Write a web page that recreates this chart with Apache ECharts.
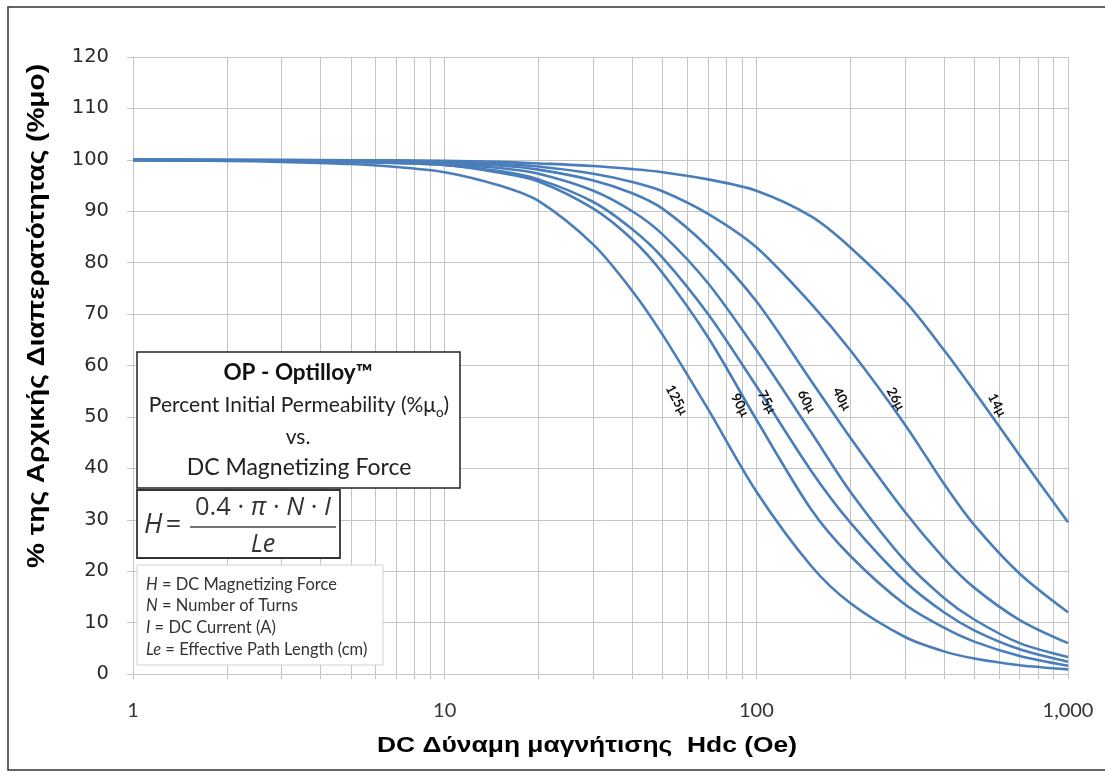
<!DOCTYPE html>
<html>
<head>
<meta charset="utf-8">
<script src="https://cdn.jsdelivr.net/npm/echarts@6/dist/echarts.min.js"></script>
<style>
  html, body { margin: 0; padding: 0; background: #ffffff; }
  #chart { width: 1105px; height: 774px; }
</style>
</head>
<body>
<div id="chart"></div>
<script>
// DC magnetizing force Hdc (Oe) at which each curve is sampled
const hValues = [1, 2, 3, 5, 7, 10, 15, 20, 30, 40, 50, 70, 100, 150, 200, 300, 400, 500, 700, 1000];

// Percent of initial permeability for each core permeability grade
const perm125 = [100, 99.8, 99.6, 99.2, 98.6, 97.6, 95.0, 92.0, 83.5, 74.5, 66.0, 51.5, 35.5, 21.0, 13.8, 7.2, 4.4, 3.0, 1.7, 0.9];
const perm90  = [100, 99.9, 99.8, 99.6, 99.4, 99.0, 97.5, 95.8, 90.5, 84.5, 78.0, 65.5, 49.5, 32.0, 23.0, 13.5, 9.0, 6.3, 3.5, 1.6];
const perm75  = [100, 99.9, 99.8, 99.6, 99.4, 99.0, 97.8, 96.2, 91.8, 86.5, 81.0, 70.0, 56.0, 39.5, 29.5, 18.0, 12.0, 8.5, 4.8, 2.4];
const perm60  = [100, 99.9, 99.8, 99.7, 99.5, 99.2, 98.4, 97.3, 94.0, 90.0, 85.5, 76.0, 63.0, 47.0, 35.5, 22.0, 14.8, 10.6, 6.0, 3.3];
const perm40  = [100, 99.9, 99.9, 99.8, 99.7, 99.4, 98.9, 98.1, 96.0, 93.5, 90.5, 83.0, 72.5, 57.0, 46.0, 31.5, 22.5, 16.8, 10.5, 6.0];
const perm26  = [100, 100, 99.9, 99.8, 99.7, 99.5, 99.2, 98.7, 97.3, 95.7, 93.9, 89.5, 83.0, 72.0, 63.0, 48.5, 37.0, 29.0, 19.5, 12.0];
const perm14  = [100, 100, 100, 99.9, 99.9, 99.8, 99.6, 99.3, 98.8, 98.2, 97.6, 96.2, 94.0, 89.0, 83.0, 72.5, 63.0, 55.0, 42.5, 29.5];

const gradeNames = ['125μ', '90μ', '75μ', '60μ', '40μ', '26μ', '14μ'];
const gradeValues = [perm125, perm90, perm75, perm60, perm40, perm26, perm14];

// Where each grade tag sits on the chart, in (Hdc, %) units
const gradeTagAt = [[55.5, 53.3], [88.6, 52.3], [108, 52.9], [145, 53.0], [188, 53.5], [280, 53.5], [592, 52.3]];

// Log-axis grid positions (1..9 per decade) and labelled decades
const xGridValues = [1, 2, 3, 4, 5, 6, 7, 8, 9, 10, 20, 30, 40, 50, 60, 70, 80, 90,
                     100, 200, 300, 400, 500, 600, 700, 800, 900, 1000];
const xTickLabels = [1, 10, 100, 1000];
const yMin = 0, yMax = 120, yStep = 10;

const curveColor = '#4a7ebb';
const gridColor = '#c4c4c4';

const series = gradeNames.map((name, k) => ({
  name: name,
  type: 'line',
  data: hValues.map((h, i) => [h, gradeValues[k][i]]),
  showSymbol: false,
  smooth: 0.3,
  lineStyle: { color: curveColor, width: 2.6 },
  itemStyle: { color: curveColor },
  silent: true,
  z: 3,
  markPoint: {
    symbol: 'circle',
    symbolSize: 1,
    itemStyle: { color: 'rgba(0,0,0,0)' },
    silent: true,
    label: {
      show: true,
      position: 'inside',
      formatter: name,
      rotate: -62,
      color: '#111',
      fontSize: 13.5,
      fontWeight: 'bold',
      fontFamily: 'Lato'
    },
    data: [{ coord: gradeTagAt[k], name: name }]
  }
}));

const Z = 50;
const italicRich = { i: { fontStyle: 'italic', fontSize: 16.5, fontFamily: 'Lato', fill: '#333' } };

const chart = echarts.init(document.getElementById('chart'), null, { renderer: 'canvas' });

chart.setOption({
  backgroundColor: '#ffffff',
  animation: false,
  grid: { left: 133, right: 37, top: 57, bottom: 100, containLabel: false },
  xAxis: {
    type: 'log',
    logBase: 10,
    min: 1,
    max: 1000,
    axisLine: { show: true, lineStyle: { color: gridColor, width: 1 } },
    axisTick: { show: true, inside: false, length: 5, customValues: xGridValues,
                lineStyle: { color: gridColor } },
    axisLabel: {
      customValues: xTickLabels,
      margin: 27,
      fontSize: 20,
      fontFamily: 'Lato',
      color: '#333',
      formatter: v => Number(v).toLocaleString('en-US')
    },
    splitLine: { show: true, lineStyle: { color: gridColor, width: 1 } }
  },
  yAxis: {
    type: 'value',
    min: yMin,
    max: yMax,
    interval: yStep,
    axisLine: { show: true, lineStyle: { color: gridColor, width: 1 } },
    axisTick: { show: true, inside: false, length: 6, lineStyle: { color: gridColor } },
    axisLabel: { margin: 24, fontSize: 19.5, fontFamily: 'DejaVu Sans', color: '#2a2a2a' },
    splitLine: { show: true, lineStyle: { color: gridColor, width: 1 } }
  },
  series: series,
  graphic: [
    // outer frame
    { type: 'rect', shape: { x: 8, y: 7, width: 1110, height: 763 }, z: 1, silent: true,
      style: { fill: 'none', stroke: '#333', lineWidth: 1.5 } },
    // axis titles
    { type: 'text', x: 38, y: 316, rotation: Math.PI / 2, scaleX: 1.22, z: Z, silent: true,
      style: { text: '% της Αρχικής Διαπερατότητας (%μο)', fill: '#000',
               font: 'bold 23px "Liberation Sans"', textAlign: 'center', textVerticalAlign: 'middle' } },
    { type: 'text', x: 587, y: 746, scaleX: 1.2, z: Z, silent: true,
      style: { text: 'DC Δύναμη μαγνήτισης  Hdc (Oe)', fill: '#000',
               font: 'bold 22px "Liberation Sans"', textAlign: 'center', textVerticalAlign: 'middle' } },
    // title box
    { type: 'rect', z: Z, silent: true, shape: { x: 137, y: 352, width: 323, height: 136 },
      style: { fill: '#fff', stroke: '#222', lineWidth: 1.5 } },
    { type: 'text', z: Z + 1, silent: true, x: 298, y: 373,
      style: { text: 'OP - Optilloy™', fill: '#111', font: 'bold 22.5px Lato',
               textAlign: 'center', textVerticalAlign: 'middle' } },
    { type: 'text', z: Z + 1, silent: true, x: 299, y: 405,
      style: { text: '{a|Percent Initial Permeability (%μ}{s|o}{a|)}',
               textAlign: 'center', textVerticalAlign: 'middle',
               rich: {
                 a: { fontSize: 21, fontFamily: 'Lato', fill: '#222', lineHeight: 30, verticalAlign: 'middle' },
                 s: { fontSize: 13.5, fontFamily: 'Lato', fill: '#222', lineHeight: 14, verticalAlign: 'bottom', padding: [16, 0, 0, 0] }
               } } },
    { type: 'text', z: Z + 1, silent: true, x: 298, y: 437,
      style: { text: 'vs.', fill: '#222', font: '21px Lato',
               textAlign: 'center', textVerticalAlign: 'middle' } },
    { type: 'text', z: Z + 1, silent: true, x: 299, y: 468,
      style: { text: 'DC Magnetizing Force', fill: '#222', font: '23px Lato',
               textAlign: 'center', textVerticalAlign: 'middle' } },
    // formula box
    { type: 'rect', z: Z, silent: true, shape: { x: 137, y: 490, width: 203, height: 68 },
      style: { fill: '#fff', stroke: '#333', lineWidth: 1.8 } },
    { type: 'text', z: Z + 1, silent: true, x: 144, y: 525,
      style: { text: '{i|H} {n|=}', textAlign: 'left', textVerticalAlign: 'middle',
               rich: {
                 i: { fontSize: 27, fontFamily: 'Open Sans', fontStyle: 'italic', fill: '#333' },
                 n: { fontSize: 27, fontFamily: 'Open Sans', fill: '#333' }
               } } },
    { type: 'text', z: Z + 1, silent: true, x: 263, y: 508,
      style: { text: '{n|0.4 · }{i|π}{n| · }{i|N}{n| · }{i|I}', textAlign: 'center', textVerticalAlign: 'middle',
               rich: {
                 i: { fontSize: 25.5, fontFamily: 'Open Sans', fontStyle: 'italic', fill: '#333' },
                 n: { fontSize: 25.5, fontFamily: 'Open Sans', fill: '#333' }
               } } },
    { type: 'line', z: Z + 1, silent: true, shape: { x1: 190, y1: 527, x2: 336, y2: 527 },
      style: { stroke: '#444', lineWidth: 1.5 } },
    { type: 'text', z: Z + 1, silent: true, x: 263, y: 545,
      style: { text: 'Le', fill: '#333', font: 'italic 25px "Open Sans"',
               textAlign: 'center', textVerticalAlign: 'middle' } },
    // symbol definitions
    { type: 'rect', z: Z, silent: true, shape: { x: 137, y: 565, width: 246, height: 100 },
      style: { fill: '#fff', stroke: '#d2d2d2', lineWidth: 1 } },
    { type: 'text', z: Z + 1, silent: true, x: 146, y: 585,
      style: { text: '{i|H} = DC Magnetizing Force', textAlign: 'left', textVerticalAlign: 'middle',
               rich: italicRich, fill: '#333', font: '16.5px Lato' } },
    { type: 'text', z: Z + 1, silent: true, x: 146, y: 606,
      style: { text: '{i|N} = Number of Turns', textAlign: 'left', textVerticalAlign: 'middle',
               rich: italicRich, fill: '#333', font: '16.5px Lato' } },
    { type: 'text', z: Z + 1, silent: true, x: 146, y: 628,
      style: { text: '{i|I} = DC Current (A)', textAlign: 'left', textVerticalAlign: 'middle',
               rich: italicRich, fill: '#333', font: '16.5px Lato' } },
    { type: 'text', z: Z + 1, silent: true, x: 146, y: 650,
      style: { text: '{i|Le} = Effective Path Length (cm)', textAlign: 'left', textVerticalAlign: 'middle',
               rich: italicRich, fill: '#333', font: '16.5px Lato' } }
  ]
});
</script>
</body>
</html>
